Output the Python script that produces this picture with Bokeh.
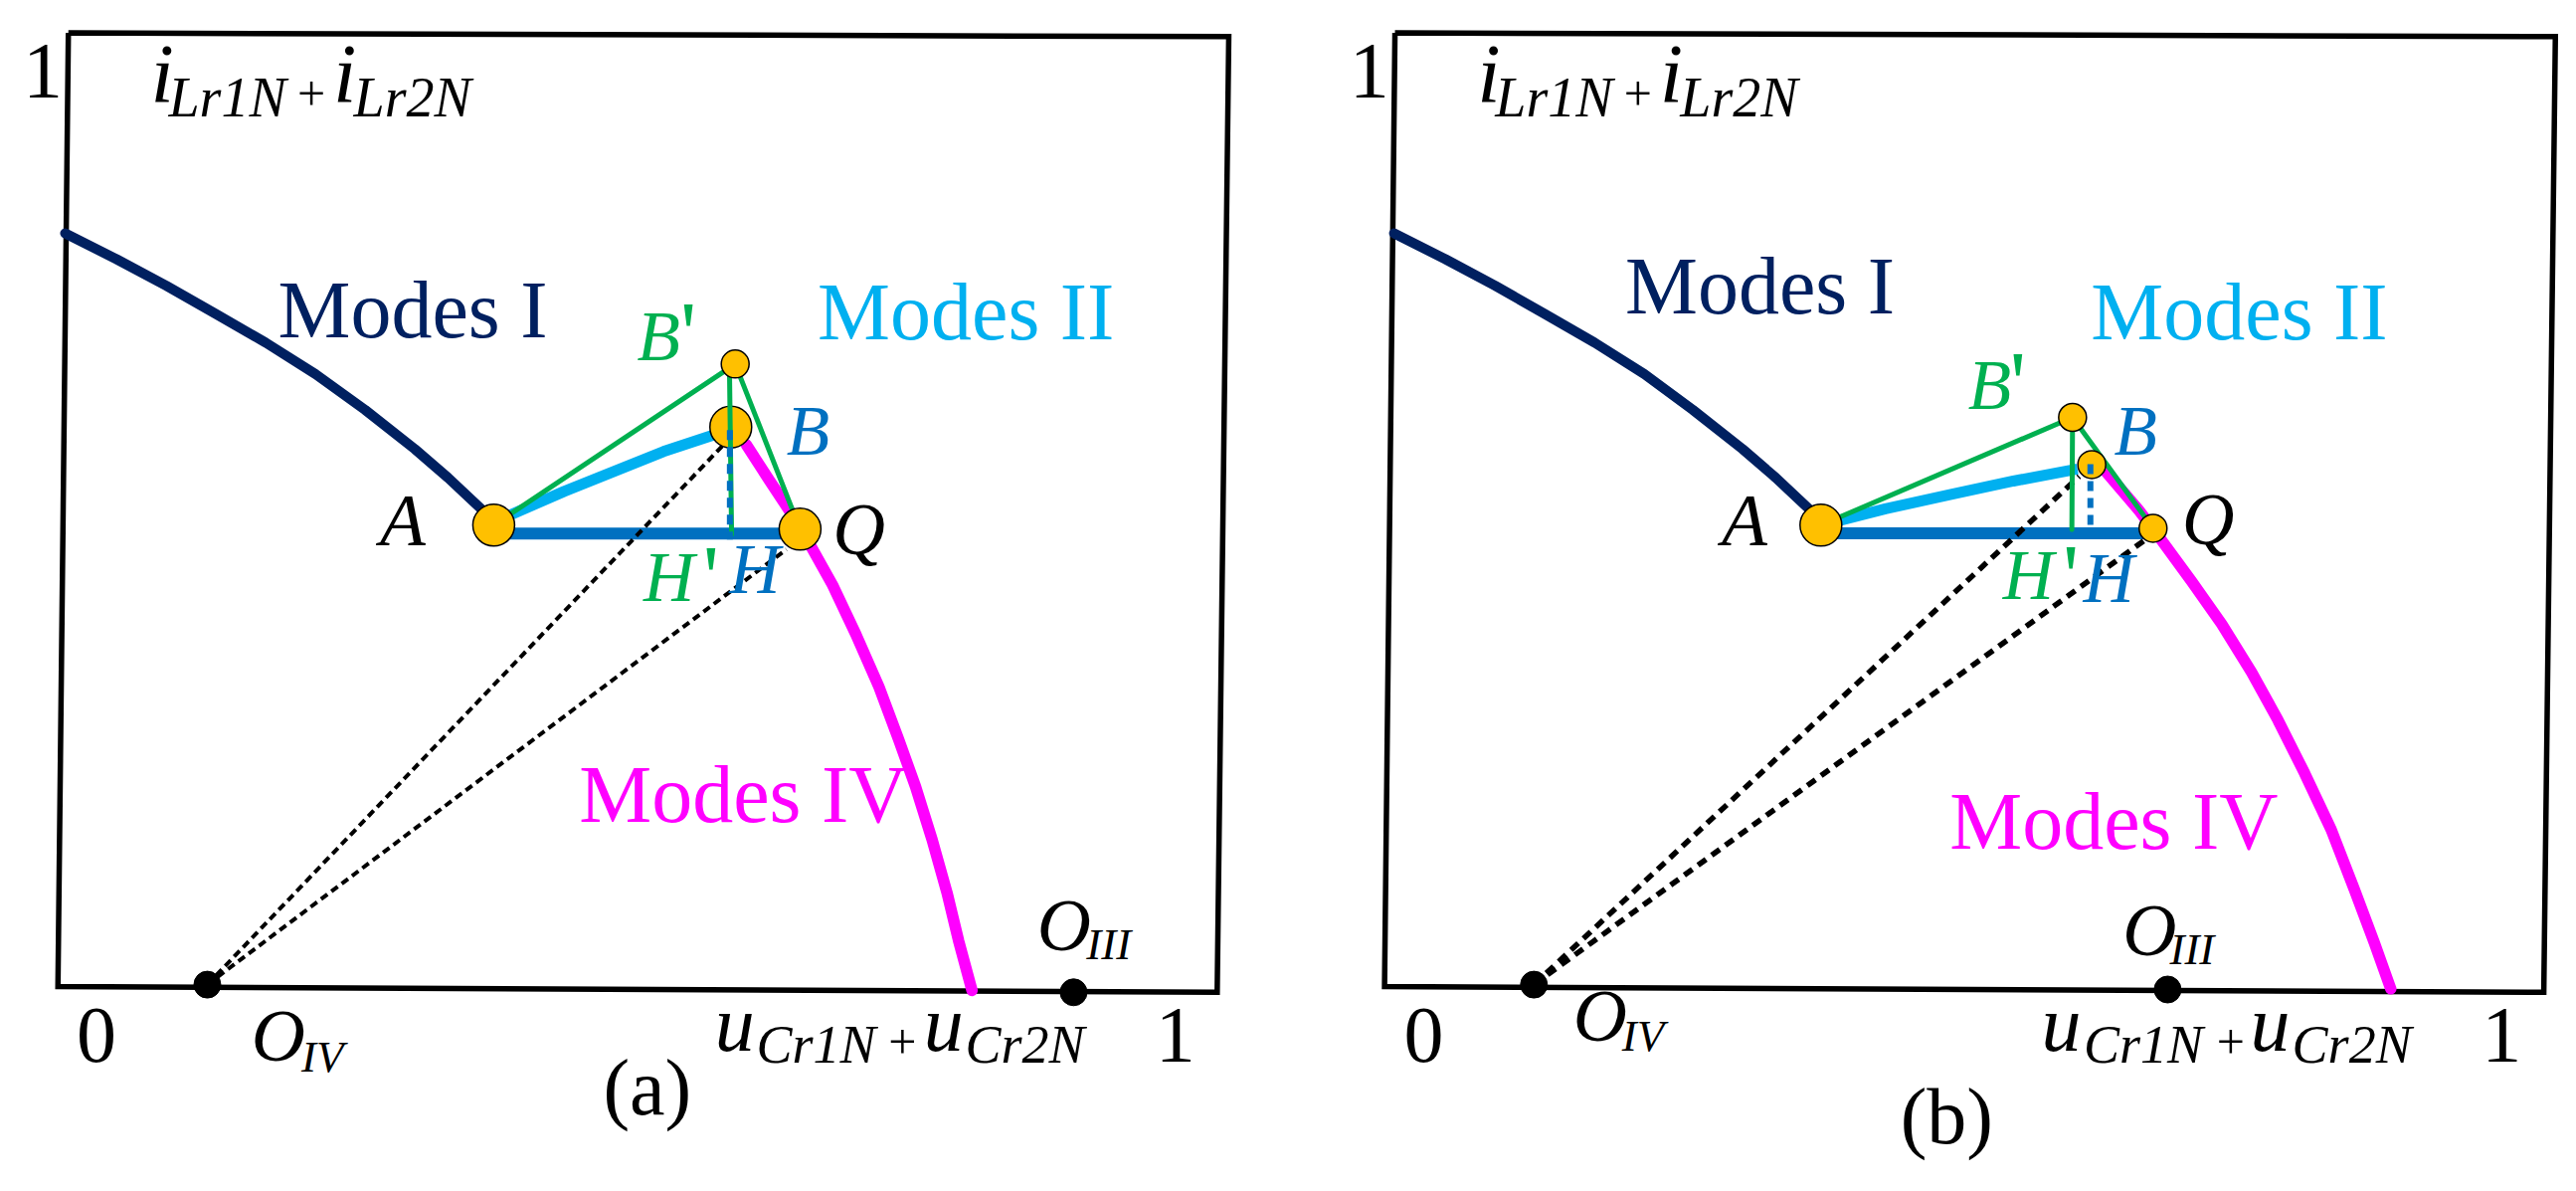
from bokeh.plotting import figure
from bokeh.layouts import row
from bokeh.models import Range1d
from bokeh.embed import file_html
from bokeh.resources import INLINE

# ---------- shared data (normalised axes, 0..1) ----------
NAVY = "#002060"; SKY = "#00B0F0"; BLUE = "#0070C0"; MAGENTA = "#FF00FF"; GREEN = "#00B050"; GOLD = "#FFC000"

frame_x = [0.004, 1.006, 0.996, -0.005, 0.004]
frame_y = [1.002, 0.998, -0.003, 0.003, 1.002]

# Panel (a)
a_modes1_x = [0.0012, 0.0456, 0.0885, 0.1315, 0.1744, 0.2174, 0.2603, 0.3032, 0.3318, 0.3634, 0.3713]
a_modes1_y = [0.7920, 0.7649, 0.7371, 0.7075, 0.6775, 0.6445, 0.6070, 0.5660, 0.5360, 0.5000, 0.4863]
a_modes4_x = [0.5895, 0.6095, 0.6296, 0.6453, 0.6639, 0.6839, 0.7040, 0.7211, 0.7355, 0.7498, 0.7627, 0.7727, 0.7843]
a_modes4_y = [0.5703, 0.5330, 0.4960, 0.4640, 0.4235, 0.3723, 0.3167, 0.2612, 0.2125, 0.1570, 0.1013, 0.0510, -0.0011]
a_modes2_x = [0.3713, 0.3862, 0.4321, 0.4750, 0.5179, 0.5609, 0.5760]
a_modes2_y = [0.4863, 0.4973, 0.5217, 0.5426, 0.5634, 0.5807, 0.5891]
a_blue_x = [0.3713, 0.6358]
a_blue_y = [0.4775, 0.4775]
a_pts = dict(A=(0.3713, 0.4863), B=(0.5760, 0.5891), Bp=(0.5798, 0.6551), Q=(0.6358, 0.4821))
a_sizes = dict(A=42, B=42, Bp=28, Q=42)
a_greenv_x = [0.5748, 0.5767]
a_greenv_y = [0.6551, 0.4765]
a_dashb_x = [0.5752, 0.5752]
a_dashb_y = [0.5859, 0.4713]
a_o4 = (0.124, 0.005)
a_o3 = (0.872, -0.003)
a_ray1 = (0.5695, 0.5703)
a_ray2 = (0.624, 0.4609)
a_text = [
    ("i", 0.0751, 0.9282, 84, "italic", "black"), ("Lr1N", 0.0905, 0.9136, 56, "italic", "black"),
    ("+", 0.2017, 0.9202, 50, "normal", "black"), ("i", 0.2327, 0.9282, 84, "italic", "black"),
    ("Lr2N", 0.2503, 0.9136, 56, "italic", "black"),
    ("1", -0.0353, 0.9323, 80, "normal", "black"),
    ("Modes I", 0.185, 0.6815, 82, "normal", NAVY),
    ("Modes II", 0.651, 0.680, 82, "normal", SKY),
    ("Modes IV", 0.445, 0.174, 82, "normal", MAGENTA),
    ("B", 0.495, 0.6583, 71, "italic", GREEN), ("B", 0.624, 0.5592, 71, "italic", BLUE),
    ("H", 0.5007, 0.406, 71, "italic", GREEN), ("H", 0.5748, 0.414, 71, "italic", BLUE),
    ("A", 0.273, 0.464, 75, "italic", "black"), ("Q", 0.664, 0.4543, 73, "italic", "black"),
    ("O", 0.162, -0.075, 75, "italic", "black"), ("IV", 0.2053, -0.087, 45, "italic", "black"),
    ("O", 0.8406, 0.0406, 75, "italic", "black"), ("III", 0.883, 0.031, 45, "italic", "black"),
    ("0", 0.011, -0.0775, 80, "normal", "black"), ("1", 0.9426, -0.0775, 80, "normal", "black"),
    ("(a)", 0.4658, -0.1322, 80, "normal", "black"),
    ("u", 0.5622, -0.0655, 80, "italic", "black"), ("Cr1N", 0.5981, -0.0775, 54, "italic", "black"),
    ("+", 0.7121, -0.0731, 50, "normal", "black"), ("u", 0.7426, -0.0655, 80, "italic", "black"),
    ("Cr2N", 0.7784, -0.0775, 54, "italic", "black"),
]
a_primes = [(0.5394, 0.6534), (0.5588, 0.3981)]

# Panel (b)
b_modes1_x = [0.0032, 0.0476, 0.0905, 0.1335, 0.1764, 0.2194, 0.2613, 0.3042, 0.3328, 0.3644, 0.3718]
b_modes1_y = [0.7920, 0.7649, 0.7371, 0.7075, 0.6775, 0.6445, 0.6070, 0.5660, 0.5360, 0.5000, 0.4863]
b_modes4_x = [0.6177, 0.6463, 0.6635, 0.6921, 0.7179, 0.7436, 0.7665, 0.7895, 0.8124, 0.8324, 0.8496, 0.8639]
b_modes4_y = [0.5426, 0.5020, 0.4745, 0.4270, 0.3827, 0.3324, 0.2820, 0.2264, 0.1674, 0.1048, 0.0492, 0.0006]
b_modes2_x = [0.3718, 0.4275, 0.4832, 0.5380, 0.5933]
b_modes2_y = [0.4863, 0.5035, 0.5182, 0.5325, 0.5452]
b_blue_x = [0.3718, 0.655]
b_blue_y = [0.4779, 0.4779]
b_pts = dict(A=(0.3718, 0.4863), B=(0.6057, 0.5498), Bp=(0.5891, 0.5992), Q=(0.6586, 0.4831))
b_sizes = dict(A=42, B=28, Bp=28, Q=28)
b_greenv_x = [0.5891, 0.5885]
b_greenv_y = [0.5992, 0.4817]
b_dashb_x = [0.6045, 0.6045]
b_dashb_y = [0.5502, 0.4835]
b_o4 = (0.124, 0.005)
b_o3 = (0.6712, -0.0001)
b_ray1 = (0.5948, 0.5374)
b_ray2 = (0.6521, 0.4713)
b_text = [
    ("i", 0.0751, 0.9282, 84, "italic", "black"), ("Lr1N", 0.0905, 0.9136, 56, "italic", "black"),
    ("+", 0.2017, 0.9202, 50, "normal", "black"), ("i", 0.2327, 0.9282, 84, "italic", "black"),
    ("Lr2N", 0.2503, 0.9136, 56, "italic", "black"),
    ("1", -0.0353, 0.9323, 80, "normal", "black"),
    ("Modes I", 0.2028, 0.707, 82, "normal", NAVY),
    ("Modes II", 0.605, 0.680, 82, "normal", SKY),
    ("Modes IV", 0.483, 0.1465, 82, "normal", MAGENTA),
    ("B", 0.4989, 0.6068, 71, "italic", GREEN), ("B", 0.6248, 0.5592, 71, "italic", BLUE),
    ("H", 0.529, 0.4081, 71, "italic", GREEN), ("H", 0.5982, 0.4053, 71, "italic", BLUE),
    ("A", 0.286, 0.464, 75, "italic", "black"), ("Q", 0.6834, 0.4647, 73, "italic", "black"),
    ("O", 0.158, -0.055, 75, "italic", "black"), ("IV", 0.2, -0.0645, 45, "italic", "black"),
    ("O", 0.6325, 0.0353, 75, "italic", "black"), ("III", 0.6729, 0.0256, 45, "italic", "black"),
    ("0", 0.0117, -0.0775, 80, "normal", "black"), ("1", 0.9425, -0.0775, 80, "normal", "black"),
    ("(b)", 0.4404, -0.1624, 80, "normal", "black"),
    ("u", 0.5622, -0.0655, 80, "italic", "black"), ("Cr1N", 0.5986, -0.0775, 54, "italic", "black"),
    ("+", 0.7135, -0.0731, 50, "normal", "black"), ("u", 0.7426, -0.0655, 80, "italic", "black"),
    ("Cr2N", 0.7787, -0.0775, 54, "italic", "black"),
]
b_primes = [(0.5418, 0.6016), (0.5877, 0.3994)]

# Visible ranges (frame occupies 0..1)
a_xr = (-0.0546, 1.0507)
b_xr = (-0.0948, 1.0105)
yr = (-0.195, 1.0359)
FIG_W, FIG_H = 1287, 1181
BASE_K = 0.35  # renderer's baseline shift, in em


def panel(xr, m1x, m1y, m4x, m4y, m2x, m2y, bx, by, pts, sizes, gvx, gvy, dbx, dby,
          o4, o3, ray1, ray2, texts, primes, ray_w, ray_dash):
    p = figure(width=FIG_W, height=FIG_H, output_backend="svg", toolbar_location=None,
               x_range=Range1d(*xr), y_range=Range1d(*yr), min_border=0,
               background_fill_color="white", border_fill_color="white", outline_line_color=None)
    p.axis.visible = False
    p.grid.visible = False
    p.line(frame_x, frame_y, line_color="black", line_width=5.5, line_join="miter")
    p.line(m1x, m1y, line_color=NAVY, line_width=10, line_cap="round", line_join="round")
    p.line(m4x, m4y, line_color=MAGENTA, line_width=11.5, line_cap="round", line_join="round")
    p.line(m2x, m2y, line_color=SKY, line_width=11, line_join="round")
    p.line(bx, by, line_color=BLUE, line_width=12)
    for r in (ray1, ray2):
        p.line([o4[0], r[0]], [o4[1], r[1]], line_color="black", line_width=ray_w, line_dash=ray_dash)
    p.line([pts["A"][0], pts["Bp"][0], pts["Q"][0]], [pts["A"][1], pts["Bp"][1], pts["Q"][1]],
           line_color=GREEN, line_width=5)
    for k in ("A", "B", "Q"):
        p.scatter([pts[k][0]], [pts[k][1]], size=sizes[k], fill_color=GOLD, line_color="black", line_width=1.5)
    p.line(gvx, gvy, line_color=GREEN, line_width=5, line_cap="round")
    p.line(dbx, dby, line_color=BLUE, line_width=6, line_dash=[10, 7])
    p.scatter([pts["Bp"][0]], [pts["Bp"][1]], size=sizes["Bp"], fill_color=GOLD, line_color="black", line_width=1.5)
    p.scatter([o4[0], o3[0]], [o4[1], o3[1]], size=27, fill_color="black", line_color="black")
    for t, x, y, s, st, c in texts:
        p.text([x], [y], text=[t], text_font="Liberation Serif", text_font_size=f"{s}px",
               text_font_style=st, text_color=c, text_align="left", text_baseline="alphabetic",
               y_offset=-BASE_K * s)
    for (x, y) in primes:
        p.text([x], [y], text=["'"], text_font="DejaVu Sans", text_font_size="90px",
               text_color=GREEN, text_align="center", text_baseline="alphabetic",
               y_offset=-BASE_K * 90)
    return p


pa = panel(a_xr, a_modes1_x, a_modes1_y, a_modes4_x, a_modes4_y, a_modes2_x, a_modes2_y, a_blue_x, a_blue_y,
           a_pts, a_sizes, a_greenv_x, a_greenv_y, a_dashb_x, a_dashb_y, a_o4, a_o3, a_ray1, a_ray2,
           a_text, a_primes, 4, [8, 5])
pb = panel(b_xr, b_modes1_x, b_modes1_y, b_modes4_x, b_modes4_y, b_modes2_x, b_modes2_y, b_blue_x, b_blue_y,
           b_pts, b_sizes, b_greenv_x, b_greenv_y, b_dashb_x, b_dashb_y, b_o4, b_o3, b_ray1, b_ray2,
           b_text, b_primes, 5.5, [10, 7])

layout = row(pa, pb, spacing=0)
open("out.html", "w").write(file_html(layout, INLINE))
